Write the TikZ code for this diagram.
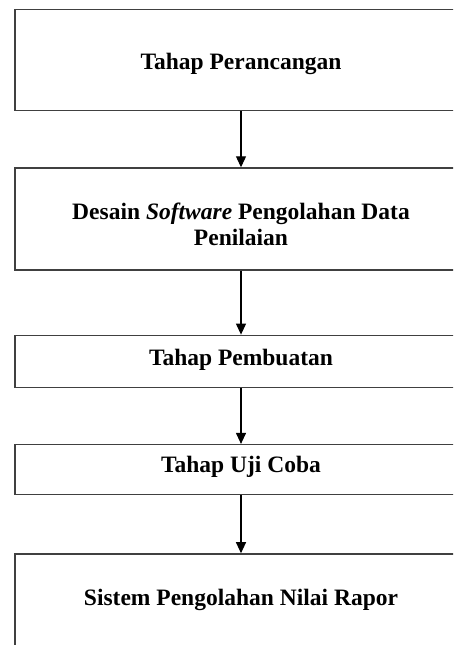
\documentclass[tikz,border=0pt]{standalone}
\usepackage{fontspec}
\setmainfont{Liberation Serif}
\usetikzlibrary{positioning, arrows.meta}

\begin{document}
\begin{tikzpicture}[
		stage/.style={draw=black!75, line width=1.3pt, rectangle, minimum width=452pt,
			align=center, inner sep=0pt, font=\fontsize{23.5}{26}\selectfont\bfseries},
		flow/.style={-{Triangle[length=11pt, width=10pt]}, line width=1.1pt},
	]
	\useasboundingbox (0,0) rectangle (453pt,-645pt);
	\clip (0,0) rectangle (453pt,-645pt);

	% design stage
	\node[stage, text height=60pt, text depth=41pt, anchor=north] (perancangan) at (241pt,-9pt) {Tahap Perancangan};

	% software design
	\node[stage, text height=78pt, text depth=24pt, below=56pt of perancangan] (desain) {%
		Desain \textit{Software} Pengolahan Data\\
		Penilaian
	};

	% build and test
	\node[stage, text height=30pt, text depth=22pt, below=64pt of desain] (pembuatan) {Tahap Pembuatan};
	\node[stage, text height=28pt, text depth=22pt, below=56pt of pembuatan] (ujicoba) {Tahap Uji Coba};

	% result
	\node[stage, text height=52pt, text depth=60pt, below=58pt of ujicoba] (sistem) {Sistem Pengolahan Nilai Rapor};

	\draw[flow] (perancangan) -- (desain);
	\draw[flow] (desain) -- (pembuatan);
	\draw[flow] (pembuatan) -- (ujicoba);
	\draw[flow] (ujicoba) -- (sistem);
\end{tikzpicture}
\end{document}
